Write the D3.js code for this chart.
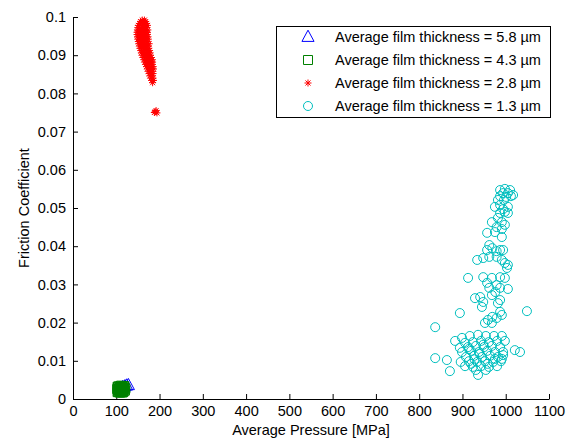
<!DOCTYPE html>
<html><head><meta charset="utf-8">
<script src="https://cdn.jsdelivr.net/npm/d3@7/dist/d3.min.js"></script>
<style>body{margin:0;background:#fff}svg{display:block}text{font-family:Arial,"Liberation Sans",sans-serif}</style>
</head><body>
<script>
const xTicks = [0,100,200,300,400,500,600,700,800,900,1000,1100];
const yTicks = [0,0.01,0.02,0.03,0.04,0.05,0.06,0.07,0.08,0.09,0.1];
const yTickLabels = ["0","0.01","0.02","0.03","0.04","0.05","0.06","0.07","0.08","0.09","0.1"];
const legendLabels = ["Average film thickness = 5.8 \u00b5m","Average film thickness = 4.3 \u00b5m","Average film thickness = 2.8 \u00b5m","Average film thickness = 1.3 \u00b5m"];

// 5.8 um (blue triangles)
const blue = [[110,0.0027],[115,0.0031],[120,0.0033],[124,0.0035],[128,0.0036]];
// 4.3 um (green squares)
const green = [[103,0.0018],[106,0.0022],[109,0.0025],[112,0.0028],[115,0.0031],[104,0.0030],[108,0.0033],[111,0.0019],[114,0.0021],[117,0.0024],[106,0.0027],[110,0.0031],[116,0.0018],[113,0.0025],[105,0.0024],[118,0.0029],[120,0.0022],
[104,0.0020],[107,0.0017],[110,0.0022],[113,0.0032],[116,0.0027],[119,0.0032],[102,0.0026],[108,0.0029],[111,0.0035],[114,0.0017],[117,0.0020],[121,0.0027],[105,0.0033],[109,0.0020],[112,0.0023],[115,0.0025],[103,0.0032],[118,0.0034],[107,0.0026],[110,0.0017]];
// 2.8 um (red stars)
const red = [
[160,0.0992],[165,0.0992],
[156,0.0988],[163,0.0988],[168,0.0988],
[154,0.0983],[160,0.0983],[166,0.0983],[170,0.0983],
[151,0.0978],[157,0.0978],[163,0.0978],[168,0.0978],[172,0.0978],
[150,0.0972],[155,0.0972],[160,0.0972],[165,0.0972],[170,0.0972],
[149,0.0966],[154,0.0966],[159,0.0966],[164,0.0966],[169,0.0966],[173,0.0966],
[148,0.0960],[153,0.0960],[158,0.0960],[163,0.0960],[168,0.0960],[172,0.0960],
[148,0.0954],[153,0.0954],[158,0.0954],[163,0.0954],[168,0.0954],[172,0.0954],
[149,0.0948],[154,0.0948],[159,0.0948],[164,0.0948],[169,0.0948],[173,0.0948],
[150,0.0942],[155,0.0942],[160,0.0942],[165,0.0942],[170,0.0942],[174,0.0942],
[151,0.0936],[156,0.0936],[161,0.0936],[166,0.0936],[171,0.0936],
[152,0.0930],[157,0.0930],[162,0.0930],[167,0.0930],[172,0.0930],[176,0.0930],
[154,0.0924],[159,0.0924],[164,0.0924],[169,0.0924],[174,0.0924],
[155,0.0918],[160,0.0918],[165,0.0918],[170,0.0918],[175,0.0918],
[157,0.0912],[162,0.0912],[167,0.0912],[172,0.0912],[177,0.0912],
[158,0.0906],[163,0.0906],[168,0.0906],[173,0.0906],[178,0.0906],
[160,0.0900],[165,0.0900],[170,0.0900],[175,0.0900],[179,0.0900],
[162,0.0894],[167,0.0894],[172,0.0894],[177,0.0894],[181,0.0894],
[164,0.0888],[169,0.0888],[174,0.0888],[179,0.0888],[183,0.0888],
[166,0.0882],[171,0.0882],[176,0.0882],[181,0.0882],[184,0.0882],
[168,0.0876],[173,0.0876],[178,0.0876],[183,0.0876],
[170,0.0870],[175,0.0870],[180,0.0870],[185,0.0870],
[172,0.0864],[177,0.0864],[182,0.0864],[186,0.0864],
[174,0.0858],[179,0.0858],[184,0.0858],
[176,0.0852],[181,0.0852],[185,0.0852],
[178,0.0846],[183,0.0846],
[180,0.0840],[185,0.0840],
[182,0.0834],[186,0.0834],
[184,0.0828],
[190,0.0752],[194,0.0749],[192,0.0755],[188,0.0750]];
// 1.3 um (cyan circles)
const cyan = [
[987,0.0547],[998,0.0550],[1010,0.0547],[994,0.0539],[1005,0.0539],[987,0.0531],[1001,0.0529],[1012,0.0531],[996,0.0521],[1017,0.0534],[982,0.0521],
[975,0.0503],[987,0.0508],[994,0.0497],[1005,0.0503],[998,0.0490],[987,0.0487],[1005,0.0487],
[968,0.0463],[982,0.0474],[991,0.0463],[998,0.0456],[979,0.0450],[991,0.0445],
[975,0.0437],[957,0.0435],[991,0.0424],
[962,0.0403],[969,0.0395],[979,0.0387],[957,0.0390],[987,0.0390],[994,0.0390],
[962,0.0372],[979,0.0372],[991,0.0364],[998,0.0356],[1005,0.0351],[1003,0.0343],
[934,0.0364],[948,0.0369],
[913,0.0317],[948,0.0319],[968,0.0317],[987,0.0319],[998,0.0317],
[957,0.0304],[979,0.0298],[962,0.0291],[987,0.0291],[976,0.0280],[1005,0.0288],
[929,0.0264],[941,0.0267],[948,0.0254],[945,0.0241],[987,0.0259],[982,0.0251],[968,0.0272],
[894,0.0225],[1049,0.0230],
[987,0.0228],[991,0.0220],[969,0.0215],[959,0.0207],[952,0.0199],[968,0.0199],[979,0.0212],
[837,0.0188],[883,0.0152],
[899,0.0160],[917,0.0165],[936,0.0168],[954,0.0165],[973,0.0165],[991,0.0165],[998,0.0152],
[906,0.0147],[924,0.0149],[943,0.0152],[961,0.0149],[980,0.0152],
[894,0.0134],[913,0.0136],[931,0.0139],[950,0.0136],[968,0.0139],[987,0.0136],
[899,0.0123],[920,0.0126],[938,0.0123],[957,0.0126],[975,0.0123],[994,0.0123],
[908,0.0110],[927,0.0113],[945,0.0110],[964,0.0113],[982,0.0110],
[896,0.0097],[915,0.0099],[934,0.0097],[952,0.0099],[971,0.0097],[989,0.0099],
[906,0.0086],[924,0.0084],[943,0.0086],[961,0.0084],[980,0.0086],
[931,0.0076],[954,0.0076],
[915,0.0131],[940,0.0118],[928,0.0104],[958,0.0092],[948,0.0142],[975,0.0105],[920,0.0092],
[1021,0.0128],[1033,0.0123],[994,0.0115],[991,0.0105],
[837,0.0107],[864,0.0102],[871,0.0073],[936,0.0063]];

const W = 578, H = 439;
const FS = 14.5;
const svg = d3.select("body").append("svg").attr("width", W).attr("height", H);
const x = d3.scaleLinear().domain([0,1100]).range([73,549]);
const y = d3.scaleLinear().domain([0,0.1]).range([399,17]);

// axes
const xAxis = d3.axisBottom(x).tickValues(xTicks).tickSizeInner(-5).tickSizeOuter(0).tickPadding(7).tickFormat(d3.format("d"));
const yAxis = d3.axisLeft(y).tickValues(yTicks).tickSizeInner(-5).tickSizeOuter(0).tickPadding(7).tickFormat((d,i)=>yTickLabels[i]);
const gx = svg.append("g").attr("transform","translate(0,399)").call(xAxis);
const gy = svg.append("g").attr("transform","translate(73,0)").call(yAxis);
[gx,gy].forEach(g=>{
  g.selectAll("text").attr("font-size",FS).attr("font-family","Arial, 'Liberation Sans', sans-serif").attr("fill","#000");
  g.select(".domain").attr("stroke","#000");
  g.selectAll(".tick line").attr("stroke","#000");
});

svg.append("text").attr("x",311).attr("y",435).attr("text-anchor","middle").attr("font-size",FS).text("Average Pressure [MPa]");
svg.append("text").attr("transform","translate(29,208) rotate(-90)").attr("text-anchor","middle").attr("font-size",FS).text("Friction Coefficient");

const COL = {blue:"#0000ff", green:"#008000", red:"#ff0000", cyan:"#00bfbf"};
function triPath(s){return `M0,${-s*0.62}L${s*0.55},${s*0.4}L${-s*0.55},${s*0.4}Z`;}
function sqPath(s){const h=s/2;return `M${-h},${-h}H${h}V${h}H${-h}Z`;}
function starPath(s){const h=s/2,d=h*0.72;return `M${-h},0H${h}M0,${-h}V${h}M${-d},${-d}L${d},${d}M${-d},${d}L${d},${-d}`;}

const plot = svg.append("g");
plot.selectAll(".b").data(blue).enter().append("path").attr("d",triPath(11))
  .attr("transform",d=>`translate(${x(d[0])},${y(d[1])})`).attr("fill","none").attr("stroke",COL.blue).attr("stroke-width",1);
plot.selectAll(".g").data(green).enter().append("path").attr("d",sqPath(9))
  .attr("transform",d=>`translate(${x(d[0])},${y(d[1])})`).attr("fill","none").attr("stroke",COL.green).attr("stroke-width",1);
plot.selectAll(".r").data(red).enter().append("path").attr("d",starPath(7))
  .attr("transform",d=>`translate(${x(d[0])},${y(d[1])})`).attr("fill","none").attr("stroke",COL.red).attr("stroke-width",1);
plot.selectAll(".c").data(cyan).enter().append("circle").attr("r",4.5)
  .attr("cx",d=>x(d[0])).attr("cy",d=>y(d[1])).attr("fill","none").attr("stroke",COL.cyan).attr("stroke-width",1);

// legend
const lg = svg.append("g");
lg.append("rect").attr("x",276.5).attr("y",26.5).attr("width",274).attr("height",91).attr("fill","#fff").attr("stroke","#000");
const rows = [37,60,83,106];
const markers = [["tri",COL.blue],["sq",COL.green],["star",COL.red],["circ",COL.cyan]];
rows.forEach((ry,i)=>{
  const [m,c] = markers[i];
  if (m==="circ") lg.append("circle").attr("cx",308).attr("cy",ry).attr("r",4.5).attr("fill","none").attr("stroke",c);
  else lg.append("path").attr("d", m==="tri"?triPath(11):m==="sq"?sqPath(9):starPath(7))
     .attr("transform",`translate(308,${ry})`).attr("fill","none").attr("stroke",c);
  lg.append("text").attr("x",335).attr("y",ry).attr("dy","0.35em").attr("font-size",FS).text(legendLabels[i]);
});
</script>
</body></html>
